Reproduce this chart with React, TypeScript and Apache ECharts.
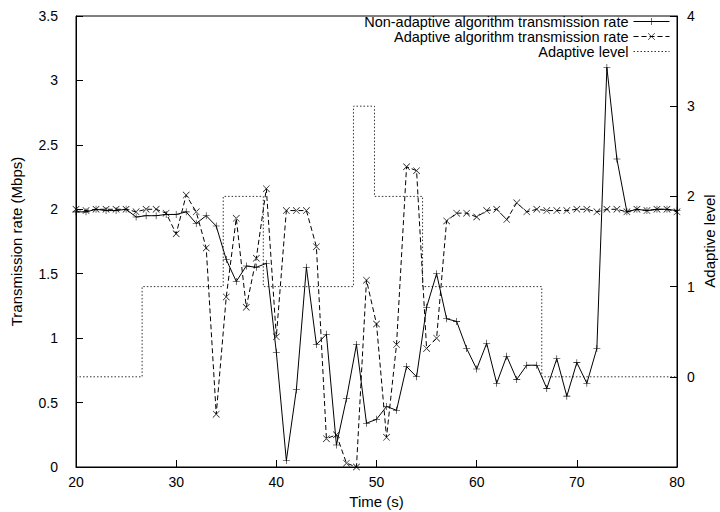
import React, { useEffect, useRef } from "react";
import * as echarts from "echarts";

const times = [
  20, 21, 22, 23, 24, 25, 26, 27, 28, 29, 30, 31, 32, 33, 34, 35, 36, 37, 38, 39,
  40, 41, 42, 43, 44, 45, 46, 47, 48, 49, 50, 51, 52, 53, 54, 55, 56, 57, 58, 59,
  60, 61, 62, 63, 64, 65, 66, 67, 68, 69, 70, 71, 72, 73, 74, 75, 76, 77, 78, 79, 80,
];

const nonAdaptiveRate = [
  1.98, 1.98, 2.0, 1.99, 1.99, 2.0, 1.94, 1.95, 1.95, 1.96, 1.96, 1.98, 1.89, 1.95, 1.87, 1.61, 1.44, 1.56, 1.55, 1.58,
  0.89, 0.05, 0.6, 1.55, 0.95, 1.03, 0.17, 0.53, 0.95, 0.34, 0.37, 0.47, 0.44, 0.78, 0.7, 1.24, 1.5, 1.15, 1.13, 0.92,
  0.76, 0.96, 0.65, 0.86, 0.68, 0.79, 0.79, 0.61, 0.84, 0.55, 0.81, 0.65, 0.92, 3.1, 2.39, 1.98, 2.0, 1.99, 2.0, 2.0, 1.99,
];

const adaptiveRate = [
  2.0, 1.99, 2.0, 2.0, 2.0, 2.0, 1.98, 2.0, 2.0, 1.97, 1.81, 2.11, 1.98, 1.7, 0.41, 1.32, 1.93, 1.24, 1.62, 2.16,
  1.01, 1.99, 1.99, 1.99, 1.71, 0.22, 0.25, 0.03, 0.0, 1.45, 1.11, 0.23, 0.95, 2.33, 2.3, 0.92, 1.0, 1.91, 1.97, 1.97,
  1.94, 1.99, 2.0, 1.92, 2.05, 1.98, 2.0, 1.99, 1.99, 1.99, 2.0, 2.0, 1.98, 2.0, 2.0, 1.98, 2.0, 1.99, 2.0, 2.0, 1.98,
];

const levelTimes = [20, 26.6, 34.7, 38.7, 47.7, 49.8, 54.6, 66.5, 80];
const levelValues = [0, 1, 2, 1, 3, 2, 1, 0, 0];

const leftTicks = ["0", "0.5", "1", "1.5", "2", "2.5", "3", "3.5"];
const rightTicks = ["", "0", "1", "2", "3", "4"];

const PLUS = "path://M4.6,0H5.4V10H4.6Z M0,4.6H10V5.4H0Z";
const CROSS = "path://M0,0.6L0.6,0L10,9.4L9.4,10Z M10,0.6L9.4,0L0,9.4L0.6,10Z";

const FONT = "'Liberation Sans', Arial, sans-serif";

export default function App() {
  const ref = useRef<HTMLDivElement>(null);
  useEffect(() => {
    if (!ref.current) return;
    const chart = echarts.init(ref.current, null, { renderer: "svg" });
    const tickStyle = { fontFamily: FONT, fontSize: 14, color: "#000" };
    const nameStyle = { fontFamily: FONT, fontSize: 15, color: "#000" };
    const legendBase = {
      orient: "vertical",
      align: "right",
      right: 50,
      padding: 0,
      itemWidth: 36,
      itemHeight: 9,
      textStyle: { ...nameStyle, fontSize: 14.5, lineHeight: 13 },
      lineStyle: { width: 1 },
      selectedMode: false,
    };
    chart.setOption({
      animation: false,
      backgroundColor: "#fff",
      textStyle: tickStyle,
      grid: {
        left: 76,
        right: 43,
        top: 16,
        bottom: 45,
        show: true,
        borderColor: "#000",
        borderWidth: 1,
        backgroundColor: "transparent",
        containLabel: false,
        outerBoundsMode: "none",
      },
      legend: [
        { ...legendBase, top: 14, data: ["Non-adaptive algorithm transmission rate"] },
        { ...legendBase, top: 29, data: ["Adaptive algorithm transmission rate"] },
        { ...legendBase, top: 44, itemStyle: { opacity: 0 }, data: ["Adaptive level"] },
      ],
      graphic: [
        {
          type: "text",
          x: 709,
          y: 241,
          rotation: Math.PI / 2,
          style: {
            text: "Adaptive level",
            fontFamily: FONT,
            fontSize: 15,
            fill: "#000",
            align: "center",
            verticalAlign: "middle",
          },
        },
      ],
      xAxis: {
        type: "value",
        min: 20,
        max: 80,
        interval: 10,
        name: "Time (s)",
        nameLocation: "middle",
        nameGap: 27,
        nameTextStyle: { ...nameStyle },
        axisLine: { show: true, lineStyle: { color: "#000", width: 1 } },
        axisTick: { show: true, inside: true, length: 7, lineStyle: { color: "#000" } },
        axisLabel: { ...tickStyle, margin: 8 },
        splitLine: { show: false },
      },
      yAxis: [
        {
          type: "value",
          min: 0,
          max: 3.5,
          interval: 0.5,
          name: "Transmission rate (Mbps)",
          nameLocation: "middle",
          nameGap: 52,
          nameRotate: 90,
          nameTextStyle: { ...nameStyle },
          axisLine: { show: true, lineStyle: { color: "#000", width: 1 } },
          axisTick: { show: true, inside: true, length: 7, lineStyle: { color: "#000" } },
          axisLabel: {
            ...tickStyle,
            margin: 18,
            formatter: (v: number) => leftTicks[Math.round(v / 0.5)] ?? "",
          },
          splitLine: { show: false },
        },
        {
          type: "value",
          min: -1,
          max: 4,
          interval: 1,
          position: "right",
          axisLine: { show: true, lineStyle: { color: "#000", width: 1 } },
          axisTick: { show: true, inside: true, length: 7, lineStyle: { color: "#000" } },
          axisLabel: {
            ...tickStyle,
            margin: 10,
            formatter: (v: number) => rightTicks[Math.round(v) + 1] ?? "",
          },
          splitLine: { show: false },
        },
      ],
      series: [
        {
          name: "Non-adaptive algorithm transmission rate",
          type: "line",
          yAxisIndex: 0,
          data: times.map((t, i) => [t, nonAdaptiveRate[i]]),
          symbol: PLUS,
          symbolSize: 7,
          showAllSymbol: true,
          itemStyle: { color: "#000" },
          lineStyle: { color: "#000", width: 1, type: "solid" },
          z: 4,
        },
        {
          name: "Adaptive algorithm transmission rate",
          type: "line",
          yAxisIndex: 0,
          data: times.map((t, i) => [t, adaptiveRate[i]]),
          symbol: CROSS,
          symbolSize: 7,
          showAllSymbol: true,
          itemStyle: { color: "#000" },
          lineStyle: { color: "#000", width: 1, type: [5, 3] },
          z: 3,
        },
        {
          name: "Adaptive level",
          type: "line",
          yAxisIndex: 1,
          step: "end",
          data: levelTimes.map((t, i) => [t, levelValues[i]]),
          symbol: "none",
          itemStyle: { color: "#333" },
          lineStyle: { color: "#333", width: 1, type: [1.5, 2] },
          z: 2,
        },
      ],
    });
    return () => chart.dispose();
  }, []);
  return (
    <div
      ref={ref}
      style={{ position: "fixed", left: 0, top: 0, width: 720, height: 512, background: "#fff" }}
    />
  );
}
